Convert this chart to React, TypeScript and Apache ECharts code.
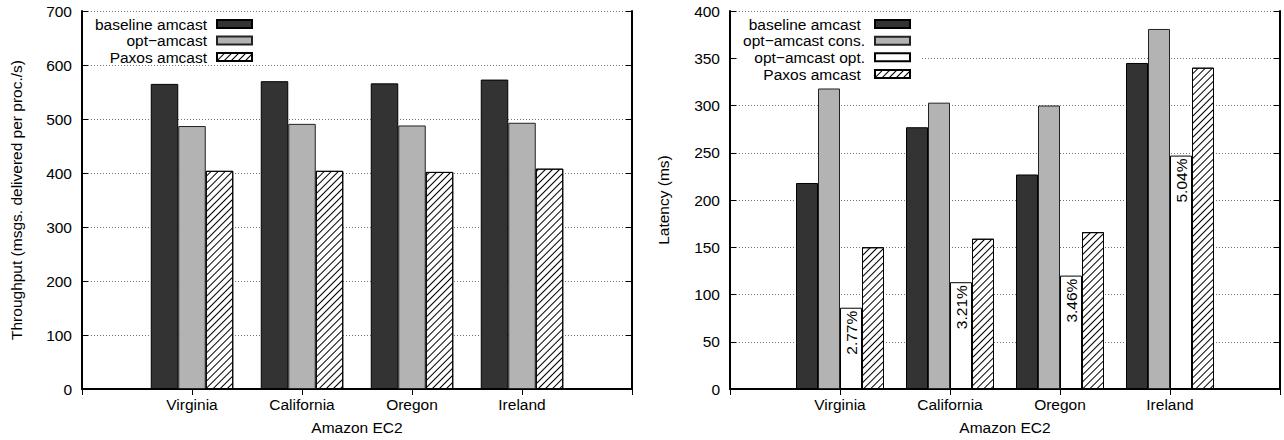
import React, { useEffect, useRef } from 'react';
import * as echarts from 'echarts';

const regions = ['', 'Virginia', 'California', 'Oregon', 'Ireland', ''];

const tputBaseline = ['-', 565, 570, 566, 573, '-'];
const tputOpt = ['-', 487, 491, 488, 493, '-'];
const tputPaxos = ['-', 404, 404, 402, 408, '-'];

const latBaseline = ['-', 218, 277, 227, 345, '-'];
const latOptCons = ['-', 318, 303, 300, 381, '-'];
const latOptOpt = ['-', 86, 113, 120, 247, '-'];
const latPaxos = ['-', 150, 159, 166, 340, '-'];
const optOptLabels = ['', '2.77%', '3.21%', '3.46%', '5.04%', ''];

const FONT = "'Liberation Sans', Arial, Helvetica, sans-serif";
const FS = 15.5;

const hatch = {
  symbol: 'rect',
  symbolSize: 1,
  color: '#000',
  dashArrayX: [1, 0],
  dashArrayY: [1, 4],
  rotation: -Math.PI / 4,
};

const darkStyle = { color: '#333333', borderColor: '#000', borderWidth: 1 };
const grayStyle = { color: '#b3b3b3', borderColor: '#222', borderWidth: 1 };
const whiteStyle = { color: '#ffffff', borderColor: '#000', borderWidth: 1 };
const hatchStyle = { color: '#ffffff', borderColor: '#000', borderWidth: 1, decal: hatch };

function xAxes(gridIndex: number) {
  return [
    {
      type: 'category',
      gridIndex,
      position: 'bottom',
      data: regions,
      boundaryGap: false,
      axisLine: { show: true, lineStyle: { color: '#000', width: 2 } },
      axisTick: { show: false },
      axisLabel: { show: true, margin: 7, color: '#000', fontSize: FS, fontFamily: FONT, interval: 0 },
      splitLine: { show: false },
      name: 'Amazon EC2',
      nameLocation: 'middle',
      nameGap: 30,
      nameTextStyle: { color: '#000', fontSize: FS, fontFamily: FONT },
    },
    {
      type: 'category',
      gridIndex,
      position: 'top',
      data: regions,
      boundaryGap: false,
      axisLine: { show: true, lineStyle: { color: '#000', width: 2 } },
      axisTick: { show: true, inside: true, length: 6, lineStyle: { color: '#000' } },
      axisLabel: { show: false },
      splitLine: { show: false },
    },
  ];
}

function yAxes(gridIndex: number, max: number, interval: number, name: string, nameGap: number) {
  return [
    {
      type: 'value',
      gridIndex,
      position: 'left',
      min: 0,
      max,
      interval,
      name,
      nameLocation: 'middle',
      nameGap,
      nameTextStyle: { color: '#000', fontSize: FS, fontFamily: FONT },
      axisLine: { show: true, lineStyle: { color: '#000', width: 2 } },
      axisTick: { show: true, inside: true, length: 6, lineStyle: { color: '#000' } },
      axisLabel: { show: true, margin: 10, color: '#000', fontSize: FS, fontFamily: FONT },
      splitLine: { show: true, lineStyle: { color: '#777', width: 1, type: [1, 2] } },
    },
    {
      type: 'value',
      gridIndex,
      position: 'right',
      min: 0,
      max,
      interval,
      axisLine: { show: true, lineStyle: { color: '#000', width: 2 } },
      axisTick: { show: true, inside: true, length: 6, lineStyle: { color: '#000' } },
      axisLabel: { show: false },
      splitLine: { show: false },
    },
  ];
}

function legendItem(name: string, rightEdge: number, centerY: number) {
  return {
    data: [name],
    orient: 'vertical',
    align: 'right',
    right: 1284 - rightEdge,
    top: centerY - 8,
    padding: 0,
    itemWidth: 35,
    itemHeight: 8,
    icon: 'rect',
    selectedMode: false,
    z: 10,
    textStyle: { color: '#000', fontSize: FS, fontFamily: FONT, lineHeight: 16, padding: [0, 5, 0, 0] },
  };
}

export default function App() {
  const ref = useRef<HTMLDivElement>(null);
  useEffect(() => {
    if (!ref.current) return;
    const chart = echarts.init(ref.current, null, { renderer: 'svg' });
    const option: any = {
      animation: false,
      backgroundColor: '#fff',
      grid: [
        { left: 82, top: 11, width: 550, height: 380 },
        { left: 730, top: 11, width: 550, height: 380 },
      ],
      xAxis: [...xAxes(0), ...xAxes(1)],
      yAxis: [
        ...yAxes(0, 700, 100, 'Throughput (msgs. delivered per proc./s)', 58),
        ...yAxes(1, 400, 50, 'Latency (ms)', 59),
      ],
      legend: [
        legendItem('baseline amcast', 253, 24),
        legendItem('opt\u2212amcast', 253, 40.5),
        legendItem('Paxos amcast', 253, 57),
        legendItem('baseline amcast ', 911, 24),
        legendItem('opt\u2212amcast cons.', 911, 40.7),
        legendItem('opt\u2212amcast opt.', 911, 57.3),
        legendItem('Paxos amcast ', 911, 74),
      ],
      graphic: [
        {
          type: 'rect',
          z: 5,
          shape: { x: 738, y: 18, width: 182, height: 64 },
          style: { fill: '#fff' },
        },
      ],
      series: [
        { type: 'bar', name: 'baseline amcast', xAxisIndex: 0, yAxisIndex: 0, data: tputBaseline, barWidth: 27.5, barGap: '0%', itemStyle: darkStyle },
        { type: 'bar', name: 'opt\u2212amcast', xAxisIndex: 0, yAxisIndex: 0, data: tputOpt, barWidth: 27.5, barGap: '0%', itemStyle: grayStyle },
        { type: 'bar', name: 'Paxos amcast', xAxisIndex: 0, yAxisIndex: 0, data: tputPaxos, barWidth: 27.5, barGap: '0%', itemStyle: hatchStyle },
        { type: 'bar', name: 'baseline amcast ', xAxisIndex: 2, yAxisIndex: 2, data: latBaseline, barWidth: 22, barGap: '0%', itemStyle: darkStyle },
        { type: 'bar', name: 'opt\u2212amcast cons.', xAxisIndex: 2, yAxisIndex: 2, data: latOptCons, barWidth: 22, barGap: '0%', itemStyle: grayStyle },
        {
          type: 'bar', name: 'opt\u2212amcast opt.', xAxisIndex: 2, yAxisIndex: 2, data: latOptOpt, barWidth: 22, barGap: '0%', itemStyle: whiteStyle,
          label: {
            show: true,
            position: 'insideTop',
            rotate: 90,
            align: 'right',
            verticalAlign: 'middle',
            distance: 3,
            color: '#000',
            fontSize: FS,
            fontFamily: FONT,
            formatter: (p: any) => optOptLabels[p.dataIndex],
          },
        },
        { type: 'bar', name: 'Paxos amcast ', xAxisIndex: 2, yAxisIndex: 2, data: latPaxos, barWidth: 22, barGap: '0%', itemStyle: hatchStyle },
      ],
    };
    chart.setOption(option);
    return () => chart.dispose();
  }, []);
  return <div ref={ref} style={{ position: 'absolute', left: 0, top: 0, width: 1284, height: 440 }} />;
}
